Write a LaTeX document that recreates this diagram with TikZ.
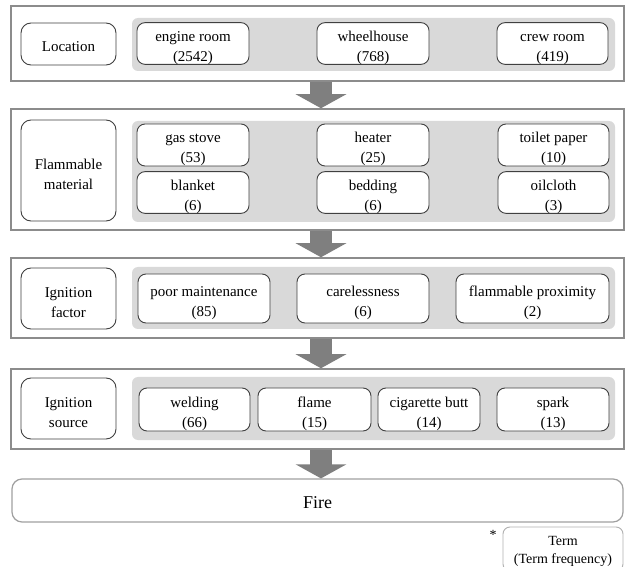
\documentclass[tikz,border=0pt]{standalone}
\usepackage{fontspec}
\setmainfont{Liberation Serif}
\usetikzlibrary{arrows.meta,calc}
\definecolor{outergray}{HTML}{8C8C8C}
\definecolor{panelgray}{HTML}{D9D9D9}
\definecolor{termborder}{HTML}{404040}
\definecolor{arrowgray}{HTML}{7F7F7F}
\definecolor{firegray}{HTML}{A0A0A0}
\definecolor{legendgray}{HTML}{B0B0B0}
\newcommand\tup{\rule{0pt}{18.5pt}}
\newcommand\tupone{\rule{0pt}{15pt}}
\begin{document}
\begin{tikzpicture}[x=1pt,y=-1pt,
  outerbox/.style={draw=outergray, line width=1.5pt, fill=white, minimum width=613pt, inner sep=0pt},
  panel/.style={fill=panelgray, rounded corners=6pt, minimum width=483pt, inner sep=0pt},
  term/.style={draw=termborder, line width=0.9pt, fill=white, rounded corners=8pt, inner sep=0pt, align=center, font=\fontsize{15}{20}\selectfont},
  cat/.style={term, rounded corners=10pt, minimum width=95pt},
  bigarrow/.style={draw=arrowgray, line width=22pt, -{Triangle[length=14pt,width=50pt]}},
]
\useasboundingbox (0,0) rectangle (625,567);
\fill[white] (0,0) rectangle (625,567);

% outer boxes
\node[outerbox, minimum height=75pt]  (outer1) at (317.5,43.5) {};
\node[outerbox, minimum height=121pt] (outer2) at (317.5,169.5) {};
\node[outerbox, minimum height=80pt]  (outer3) at (317.5,298) {};
\node[outerbox, minimum height=80pt]  (outer4) at (317.5,409) {};

% panels
\node[panel, minimum height=53pt]  (panel1) at (373.5,44.5) {};
\node[panel, minimum height=101pt] (panel2) at (373.5,171.5) {};
\node[panel, minimum height=62pt]  (panel3) at (373.5,298) {};
\node[panel, minimum height=63pt]  (panel4) at (373.5,408.5) {};

% row 1
\node[cat, minimum height=42pt] (loc) at (68.5,44) {\tupone Location};
\node[term, minimum width=112pt, minimum height=41pt] (engine) at (193,43.5) {\tup engine room\\(2542)};
\node[term, minimum width=112pt, minimum height=41pt] (wheel) at (373,43.5) {\tup wheelhouse\\(768)};
\node[term, minimum width=111pt, minimum height=41pt] (crew) at (552.5,43.5) {\tup crew room\\(419)};

% row 2
\node[cat, minimum height=101pt] (flam) at (68.5,170.5) {\tup Flammable\\material};
\node[term, minimum width=112pt, minimum height=42pt] (gas) at (193,145) {\tup gas stove\\(53)};
\node[term, minimum width=112pt, minimum height=41pt] (blanket) at (193,192.5) {\tup blanket\\(6)};
\node[term, minimum width=112pt, minimum height=42pt] (heater) at (373,145) {\tup heater\\(25)};
\node[term, minimum width=112pt, minimum height=41pt] (bedding) at (373,192.5) {\tup bedding\\(6)};
\node[term, minimum width=111pt, minimum height=42pt] (toilet) at (553.5,145) {\tup toilet paper\\(10)};
\node[term, minimum width=111pt, minimum height=41pt] (oil) at (553.5,192.5) {\tup oilcloth\\(3)};

% row 3
\node[cat, minimum height=61pt] (ignf) at (68.5,298.5) {\tup Ignition\\factor};
\node[term, minimum width=132pt, minimum height=49pt] (poor) at (204,298.5) {\tup poor maintenance\\(85)};
\node[term, minimum width=132pt, minimum height=49pt] (care) at (363,298.5) {\tup carelessness\\(6)};
\node[term, minimum width=153pt, minimum height=49pt] (prox) at (532.5,298.5) {\tup flammable proximity\\(2)};

% row 4
\node[cat, minimum height=61pt] (igns) at (68.5,408.5) {\tup Ignition\\source};
\node[term, minimum width=111pt, minimum height=43pt] (weld) at (194.5,409.5) {\tup welding\\(66)};
\node[term, minimum width=113pt, minimum height=43pt] (flame) at (314.5,409.5) {\tup flame\\(15)};
\node[term, minimum width=102pt, minimum height=43pt] (cig) at (429,409.5) {\tup cigarette butt\\(14)};
\node[term, minimum width=112pt, minimum height=43pt] (spark) at (553,409.5) {\tup spark\\(13)};

% fire
\node[draw=firegray, line width=1.2pt, fill=white, rounded corners=10pt, minimum width=611pt, minimum height=43pt, inner sep=0pt, font=\fontsize{18}{22}\selectfont] (fire) at (317.5,500.5) {\rule{0pt}{17pt}Fire};

% legend
\node[draw=legendgray, line width=0.9pt, fill=white, rounded corners=7pt, minimum width=120pt, minimum height=44pt, inner sep=0pt, align=center, font=\fontsize{14}{18}\selectfont] (legend) at (563,549) {\rule{0pt}{15pt}Term\\(Term frequency)};
\node[font=\fontsize{14}{16}\selectfont, inner sep=0pt] (star) at (493,535) {*};

% arrows
\coordinate (ax) at (321,0);
\draw[bigarrow] (outer1.south -| ax) -- (outer2.north -| ax);
\draw[bigarrow] (outer2.south -| ax) -- (outer3.north -| ax);
\draw[bigarrow] (outer3.south -| ax) -- (outer4.north -| ax);
\draw[bigarrow] (outer4.south -| ax) -- (fire.north -| ax);
\end{tikzpicture}
\end{document}
